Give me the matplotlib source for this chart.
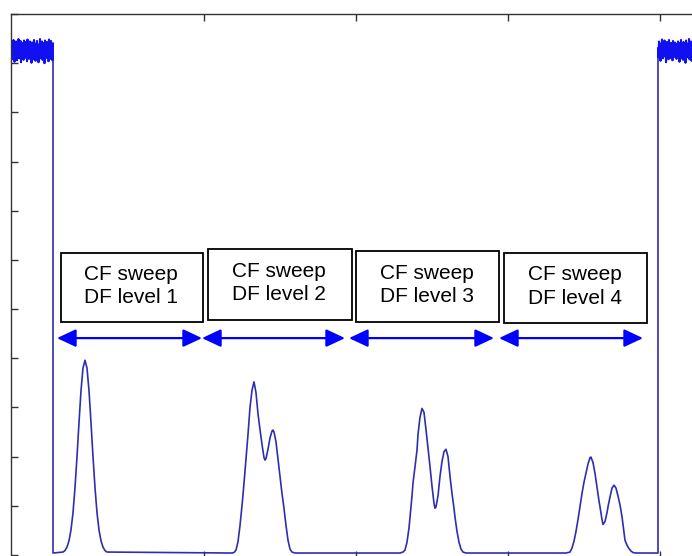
import numpy as np
import matplotlib
matplotlib.use("Agg")
import matplotlib.pyplot as plt
from matplotlib.patches import Rectangle

# ---------------- data ----------------
# x: sample position, y: amplitude (0..11)
noise_left_x = [11 + 0.5 * i for i in range(85)]
noise_left_y = [10.25, 10.42, 10.08, 10.36, 10.15, 10.47, 10.20, 10.03, 10.38, 10.12,
                10.44, 10.27, 10.06, 10.40, 10.18, 10.49, 10.10, 10.33, 10.22, 10.45,
                10.02, 10.30, 10.41, 10.14, 10.37, 10.07, 10.46, 10.24, 10.11, 10.43,
                10.19, 10.35, 10.04, 10.48, 10.16, 10.39, 10.09, 10.31, 10.44, 10.13,
                10.28, 10.01, 10.42, 10.21, 10.36, 10.08, 10.47, 10.17, 10.34, 10.05,
                10.40, 10.23, 10.45, 10.12, 10.30, 10.02, 10.38, 10.19, 10.49, 10.10,
                10.33, 10.26, 10.44, 10.07, 10.41, 10.15, 10.36, 10.00, 10.46, 10.22,
                10.29, 10.11, 10.43, 10.18, 10.37, 10.04, 10.48, 10.25, 10.32, 10.09,
                10.45, 10.14, 10.39, 10.06, 10.40]

peak1_x = [53, 63, 65, 67, 69, 71, 73, 75, 77, 79, 81, 83, 85, 87, 89, 91, 93, 95, 97,
           99, 101, 103, 105, 107]
peak1_y = [0.04, 0.06, 0.09, 0.16, 0.29, 0.51, 0.86, 1.37, 2.00, 2.69, 3.34, 3.80, 3.96,
           3.80, 3.34, 2.69, 2.00, 1.37, 0.86, 0.51, 0.29, 0.16, 0.09, 0.06]

peak2_x = [232, 234, 236, 238, 240, 242, 244, 246, 248, 250, 252, 254, 256, 258, 260,
           262, 264, 265, 266, 268, 270, 272, 273, 274, 276, 278, 280, 282, 284, 286,
           288, 290, 292, 295]
peak2_y = [0.04, 0.05, 0.10, 0.27, 0.60, 1.00, 1.46, 1.95, 2.45, 3.00, 3.35, 3.52, 3.30,
           2.87, 2.55, 2.25, 1.98, 1.93, 1.96, 2.15, 2.38, 2.52, 2.54, 2.50, 2.30, 1.95,
           1.60, 1.25, 0.95, 0.60, 0.30, 0.12, 0.06, 0.04]

peak3_x = [400, 403, 405, 407, 409, 410, 412, 413, 415, 417, 418, 420, 422, 424, 426,
           428, 430, 432, 434, 435, 436, 438, 440, 442, 444, 446, 448, 450, 452, 454,
           455, 457, 459, 461, 463, 466]
peak3_y = [0.04, 0.06, 0.10, 0.26, 0.55, 0.77, 1.20, 1.46, 1.80, 2.13, 2.45, 2.80, 2.98,
           2.90, 2.55, 2.18, 1.80, 1.40, 1.05, 0.95, 0.98, 1.20, 1.60, 1.90, 2.10, 2.15,
           2.00, 1.60, 1.25, 0.95, 0.77, 0.48, 0.26, 0.12, 0.06, 0.04]

peak4_x = [566, 570, 572, 574, 576, 578, 580, 582, 584, 586, 588, 590, 591, 593, 595,
           597, 599, 600, 602, 603, 605, 607, 608, 610, 612, 614, 616, 618, 620, 622,
           624, 625, 627, 629, 631, 633, 636, 658]
peak4_y = [0.04, 0.06, 0.14, 0.28, 0.48, 0.72, 0.98, 1.25, 1.48, 1.66, 1.85, 1.98, 1.99,
           1.88, 1.66, 1.38, 1.10, 0.98, 0.72, 0.62, 0.68, 0.86, 0.98, 1.18, 1.36, 1.42,
           1.36, 1.20, 1.02, 0.78, 0.46, 0.30, 0.20, 0.13, 0.08, 0.05, 0.04, 0.04]

noise_right_x = [658 + 0.5 * i for i in range(85)]
noise_right_y = [10.30, 10.12, 10.44, 10.21, 10.36, 10.05, 10.40, 10.18, 10.48, 10.26,
                 10.10, 10.34, 10.22, 10.46, 10.14, 10.38, 10.02, 10.29, 10.43, 10.17,
                 10.35, 10.08, 10.47, 10.24, 10.32, 10.11, 10.41, 10.19, 10.37, 10.06,
                 10.45, 10.23, 10.31, 10.13, 10.42, 10.20, 10.39, 10.09, 10.33, 10.27,
                 10.44, 10.15, 10.36, 10.03, 10.41, 10.19, 10.47, 10.10, 10.35, 10.25,
                 10.07, 10.43, 10.16, 10.38, 10.28, 10.01, 10.46, 10.21, 10.33, 10.12,
                 10.40, 10.24, 10.49, 10.08, 10.31, 10.17, 10.44, 10.05, 10.37, 10.22,
                 10.45, 10.13, 10.30, 10.02, 10.42, 10.26, 10.35, 10.11, 10.48, 10.18,
                 10.39, 10.06, 10.34, 10.23, 10.41]

box_labels = ["CF sweep\nDF level 1", "CF sweep\nDF level 2",
              "CF sweep\nDF level 3", "CF sweep\nDF level 4"]

x_ticks = [204, 356, 508, 660]
y_ticks = list(range(0, 12))

# ---------------- figure ----------------
W, H = 692, 556
fig = plt.figure(figsize=(W / 100, H / 100), dpi=100)
ax = fig.add_axes([11 / W, -1.6 / H, (780 - 11) / W, 543.6 / H])

x = (noise_left_x + peak1_x + peak2_x + peak3_x + peak4_x + noise_right_x)
y = (noise_left_y + peak1_y + peak2_y + peak3_y + peak4_y + noise_right_y)
ax.plot(x, y, color="#2e2eb0", lw=1.2, solid_joinstyle="round")
ax.plot(noise_left_x, noise_left_y, color="#1010f0", lw=1.5)
ax.plot(noise_right_x, noise_right_y, color="#1010f0", lw=1.5)

ax.set_xlim(11, 780)
ax.set_ylim(-0.053, 11)
ax.set_xticks(x_ticks)
ax.set_yticks(y_ticks)
ax.tick_params(direction="in", length=5, width=1.0, colors="#333333",
               top=True, right=True, labelbottom=False, labelleft=False)
for s in ax.spines.values():
    s.set_color("#333333")
    s.set_linewidth(1.0)

# text boxes
boxes = [(61, 203, 4.74, 6.14), (208, 352, 4.78, 6.22),
         (356, 499, 4.74, 6.18), (504, 647, 4.72, 6.14)]
for (x0, x1, y0, y1), lab in zip(boxes, box_labels):
    ax.add_patch(Rectangle((x0, y0), x1 - x0, y1 - y0, fill=False,
                           edgecolor="black", lw=1.3, zorder=3))
    ax.text((x0 + x1) / 2 - 1, (y0 + y1) / 2 + 0.03, lab, ha="center", va="center",
            multialignment="left", fontsize=15, family="Liberation Sans",
            linespacing=1.3, zorder=4)

# arrows
arrows = [(57, 202), (202, 345), (349, 494), (499, 643)]
for a0, a1 in arrows:
    ax.annotate("", xy=(a1, 4.41), xytext=(a0, 4.41),
                arrowprops=dict(arrowstyle="<|-|>,head_length=1.15,head_width=0.54",
                                mutation_scale=10, color="#0000ff", lw=1.6,
                                shrinkA=0, shrinkB=0), zorder=5)

fig.savefig("out.png", dpi=100)
